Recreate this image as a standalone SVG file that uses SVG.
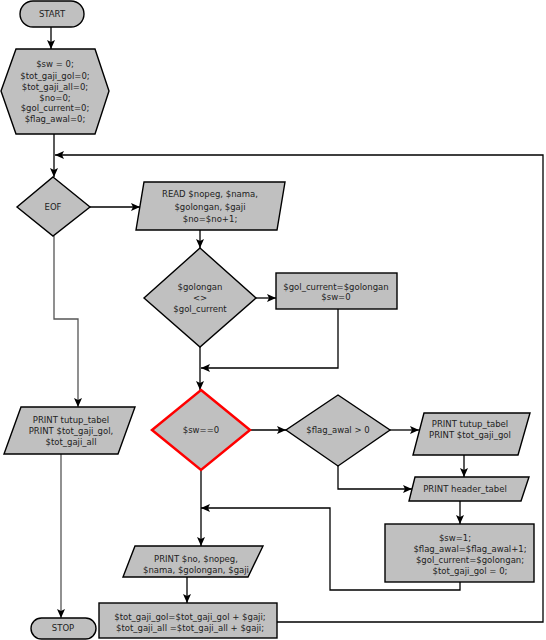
<svg xmlns="http://www.w3.org/2000/svg" width="546" height="640" viewBox="0 0 546 640">
<defs>
<marker id="ah" markerUnits="userSpaceOnUse" markerWidth="10" markerHeight="10" viewBox="0 0 10 10" refX="9" refY="5" orient="auto">
<path d="M0,1 L9,5 L0,9 L2,5 Z" fill="#000"/>
</marker>
<style>
.n{fill:#c0c0c0;stroke:#000;stroke-width:1.4}
.red{fill:#c0c0c0;stroke:#ff0000;stroke-width:2.5}
.t{font-family:"DejaVu Sans",sans-serif;font-size:8.5px;fill:#222;text-anchor:middle}
.c{fill:none;stroke:#000;stroke-width:1.3}
.g{stroke:#555}
.a{marker-end:url(#ah)}
</style>
</defs>
<rect width="546" height="640" fill="#fff"/>
<g id="connectors">
<path class="c a" d="M51,27 V49"/>
<path class="c a" d="M54,134 V177"/>
<path class="c a" d="M277,622 H543 V155 H55"/>
<path class="c a" d="M90,207 H140"/>
<path class="c a" d="M200,230 V248"/>
<path class="c a" d="M256,298 H276"/>
<path class="c a" d="M338,309 V368 H201"/>
<path class="c a" d="M200,347 V390"/>
<path class="c a" d="M250,430 H286"/>
<path class="c a" d="M390,430 H419"/>
<path class="c a" d="M464,455 V477"/>
<path class="c a" d="M338,466 V489 H412"/>
<path class="c a" d="M460,501 V524"/>
<path class="c a" d="M460,582 V590 H330 V508 H201"/>
<path class="c a" d="M201,470 V546"/>
<path class="c a" d="M187,577 V603"/>
<path class="c g a" d="M54,236 V319 H78 V407"/>
<path class="c g a" d="M61,454 V618"/>
</g>
<g id="start">
<rect class="n" x="20" y="1" width="64" height="26" rx="13"/>
<text class="t" x="52" y="17">START</text>
</g>
<g id="init">
<polygon class="n" points="16,49 95,49 109,91 95,134 16,134 1,91"/>
<text class="t" x="55" y="67">$sw = 0;</text>
<text class="t" x="55" y="79">$tot_gaji_gol=0;</text>
<text class="t" x="55" y="90">$tot_gaji_all=0;</text>
<text class="t" x="55" y="101">$no=0;</text>
<text class="t" x="55" y="111">$gol_current=0;</text>
<text class="t" x="55" y="122">$flag_awal=0;</text>
</g>
<g id="eof">
<polygon class="n" points="53,177 90,207 53,236 17,207"/>
<text class="t" x="53" y="210">EOF</text>
</g>
<g id="read">
<polygon class="n" points="144,182 285,182 277,230 136,230"/>
<text class="t" x="210" y="197">READ $nopeg, $nama,</text>
<text class="t" x="210" y="210">$golongan, $gaji</text>
<text class="t" x="210" y="222">$no=$no+1;</text>
</g>
<g id="golongan">
<polygon class="n" points="200,248 256,298 200,347 144,298"/>
<text class="t" x="200" y="290">$golongan</text>
<text class="t" x="200" y="301">&lt;&gt;</text>
<text class="t" x="200" y="312">$gol_current</text>
</g>
<g id="golcur">
<rect class="n" x="276" y="273" width="121" height="36"/>
<text class="t" x="336" y="290">$gol_current=$golongan</text>
<text class="t" x="336" y="300">$sw=0</text>
</g>
<g id="sw">
<polygon class="red" points="201,390 250,430 201,470 152,430"/>
<text class="t" x="201" y="433">$sw==0</text>
</g>
<g id="flag">
<polygon class="n" points="338,395 390,430 338,466 286,430"/>
<text class="t" x="338" y="433">$flag_awal &gt; 0</text>
</g>
<g id="print_tutup_gol">
<polygon class="n" points="424,413 530,413 518,455 413,455"/>
<text class="t" x="470" y="427">PRINT tutup_tabel</text>
<text class="t" x="470" y="438">PRINT $tot_gaji_gol</text>
</g>
<g id="header">
<polygon class="n" points="415,477 529,477 521,501 409,501"/>
<text class="t" x="465" y="492">PRINT header_tabel</text>
</g>
<g id="reset">
<rect class="n" x="385" y="524" width="149" height="58"/>
<text class="t" x="455" y="541">$sw=1;</text>
<text class="t" x="470" y="552">$flag_awal=$flag_awal+1;</text>
<text class="t" x="470" y="563">$gol_current=$golongan;</text>
<text class="t" x="470" y="574">$tot_gaji_gol = 0;</text>
</g>
<g id="print_tutup_all">
<polygon class="n" points="21,407 135,407 118,454 4,454"/>
<text class="t" x="71" y="423">PRINT tutup_tabel</text>
<text class="t" x="71" y="434">PRINT $tot_gaji_gol,</text>
<text class="t" x="71" y="445">$tot_gaji_all</text>
</g>
<g id="print_row">
<polygon class="n" points="135,546 263,546 248,577 123,577"/>
<text class="t" x="196" y="562">PRINT $no, $nopeg,</text>
<text class="t" x="196" y="573">$nama, $golongan, $gaji</text>
</g>
<g id="sum">
<rect class="n" x="99" y="603" width="178" height="35"/>
<text class="t" x="190" y="620">$tot_gaji_gol=$tot_gaji_gol + $gaji;</text>
<text class="t" x="190" y="631">$tot_gaji_all =$tot_gaji_all + $gaji;</text>
</g>
<g id="stop">
<rect class="n" x="31" y="618" width="65" height="21" rx="10.5"/>
<text class="t" x="63" y="631">STOP</text>
</g>
</svg>
